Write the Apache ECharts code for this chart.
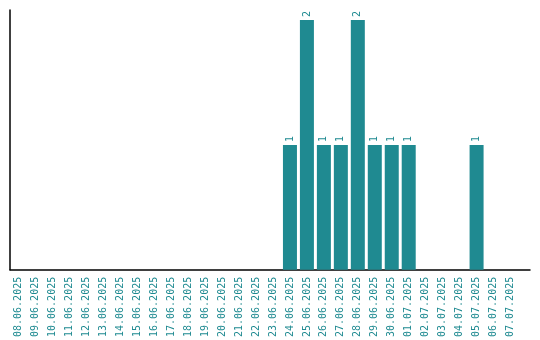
<!DOCTYPE html>
<html><head><meta charset="utf-8">
<script src="https://cdn.jsdelivr.net/npm/echarts@6/dist/echarts.min.js"></script>
<style>html,body{margin:0;padding:0;background:#fff}#c{width:540px;height:340px}</style>
</head><body><div id="c"></div>
<script>
const categories = ['08.06.2025','09.06.2025','10.06.2025','11.06.2025','12.06.2025','13.06.2025','14.06.2025','15.06.2025','16.06.2025','17.06.2025','18.06.2025','19.06.2025','20.06.2025','21.06.2025','22.06.2025','23.06.2025','24.06.2025','25.06.2025','26.06.2025','27.06.2025','28.06.2025','29.06.2025','30.06.2025','01.07.2025','02.07.2025','03.07.2025','04.07.2025','05.07.2025','06.07.2025','07.07.2025'];
const counts = [0,0,0,0,0,0,0,0,0,0,0,0,0,0,0,0,1,2,1,1,2,1,1,1,0,0,0,1,0,0];
const teal = '#1f8a91';
const chart = echarts.init(document.getElementById('c'), null, {renderer:'canvas'});
chart.setOption({
  animation:false,
  grid:[{left:10,right:21,top:10,bottom:70},{left:10,right:10,top:10,bottom:70}],
  xAxis:[{
    type:'category', data:categories, gridIndex:0,
    axisLine:{show:false}, axisTick:{show:false},
    axisLabel:{interval:0, rotate:90, color:teal, fontFamily:'DejaVu Sans Mono', fontSize:10, margin:7}
  },{
    type:'value', gridIndex:1, min:0, max:1,
    axisLine:{show:true, onZero:false, lineStyle:{color:'#000', width:1.5}},
    axisTick:{show:false}, axisLabel:{show:false}, splitLine:{show:false}
  }],
  yAxis:[{
    type:'value', gridIndex:0, min:0, max:2.08,
    axisLine:{show:true, lineStyle:{color:'#000', width:1.5}},
    axisTick:{show:false}, axisLabel:{show:false}, splitLine:{show:false}
  },{
    type:'value', gridIndex:1, show:false, min:0, max:1
  }],
  series:[{
    type:'bar', xAxisIndex:0, yAxisIndex:0, data:counts.map(v=>v===0?null:v), barWidth:14,
    itemStyle:{color:teal},
    label:{show:true, position:'top', rotate:90, align:'left', verticalAlign:'middle', distance:3,
      color:teal, fontFamily:'DejaVu Sans Mono', fontSize:10}
  }]
});
</script></body></html>
